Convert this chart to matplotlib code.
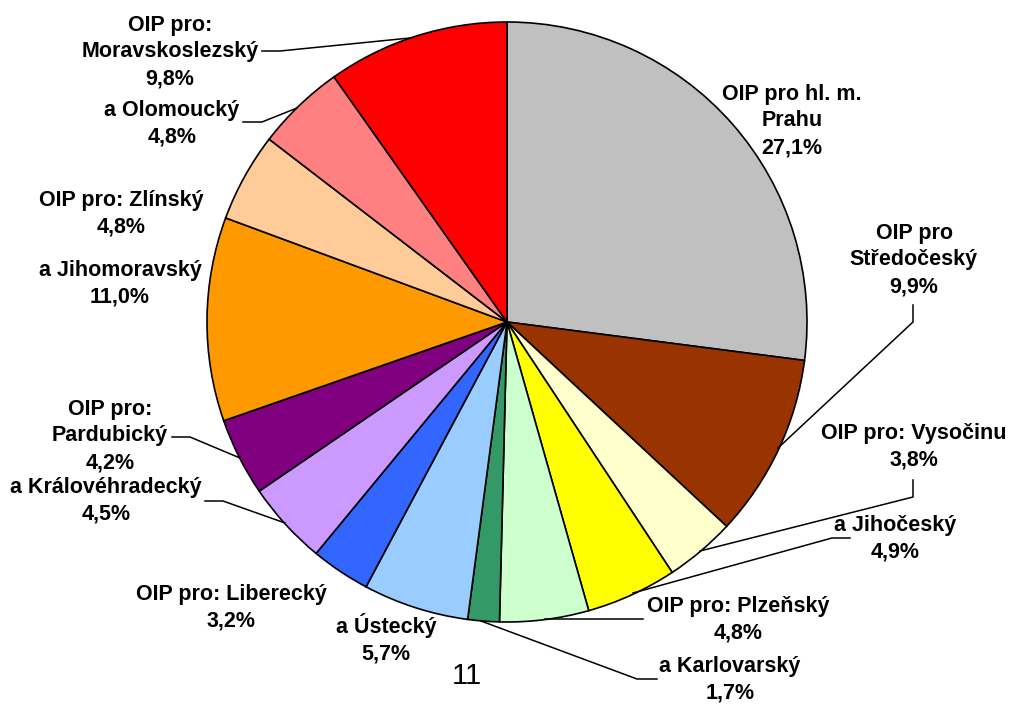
import matplotlib
matplotlib.use("Agg")
import matplotlib.pyplot as plt

# ── data ──
labels = [
    "OIP pro hl. m.\nPrahu", "OIP pro\nStředočeský", "OIP pro: Vysočinu",
    "a Jihočeský", "OIP pro: Plzeňský", "a Karlovarský", "a Ústecký",
    "OIP pro: Liberecký", "a Královéhradecký", "OIP pro:\nPardubický",
    "a Jihomoravský", "OIP pro: Zlínský", "a Olomoucký",
    "OIP pro:\nMoravskoslezský",
]
shares = [27.1, 9.9, 3.8, 4.9, 4.8, 1.7, 5.7, 3.2, 4.5, 4.2, 11.0, 4.8, 4.8, 9.8]
colors = [
    "#C0C0C0", "#993300", "#FFFFCC", "#FFFF00", "#CCFFCC", "#339966", "#99CCFF",
    "#3366FF", "#CC99FF", "#800080", "#FF9900", "#FFCC99", "#FF8080", "#FF0000",
]

# ── layout (pixel coords of the reference, y downward) ──
W, H = 1010, 704
CX, CY, R = 507, 322, 300
label_pos = [
    (792, 121), (914, 260), (914, 447), (895, 539), (738, 620), (730, 680),
    (386, 639), (231, 608), (106, 501), (110, 436), (120, 284), (121, 214),
    (172, 124), (170, 52),
]
leaders = {
    1: [(913, 305), (913, 322), (778, 448)],
    2: [(913, 480), (913, 497), (700, 551)],
    3: [(850, 538), (832, 538), (633, 593)],
    4: [(643, 619), (545, 619)],
    5: [(657, 679), (637, 679), (481, 621)],
    8: [(205, 501), (223, 501), (285, 523)],
    9: [(172, 437), (190, 437), (240, 458)],
    12: [(243, 122), (262, 122), (297, 108)],
    13: [(262, 51), (280, 51), (410, 38)],
}

plt.rcParams["font.family"] = ["Liberation Sans", "DejaVu Sans"]

fig = plt.figure(figsize=(W / 100, H / 100), dpi=100)
ax = fig.add_axes([0, 0, 1, 1])

ax.pie(shares, colors=colors, startangle=90, counterclock=False,
       center=(CX, H - CY), radius=R, frame=True,
       wedgeprops=dict(edgecolor="black", linewidth=1.2))
ax.set_xlim(0, W)
ax.set_ylim(0, H)
ax.set_aspect("equal")
ax.axis("off")

for i, (lab, val) in enumerate(zip(labels, shares)):
    x, y = label_pos[i]
    pct = f"{val:.1f}%".replace(".", ",")
    ax.text(x, H - y, f"{lab}\n{pct}", ha="center", va="center",
            fontsize=15.5, fontweight="bold", linespacing=1.36)

for i, pts in leaders.items():
    xs = [p[0] for p in pts]
    ys = [H - p[1] for p in pts]
    ax.plot(xs, ys, color="black", linewidth=1.1)

# page number
ax.text(467, H - 676, "11", ha="center", va="center", fontsize=21)

fig.savefig("out.png", dpi=100, facecolor="white")
